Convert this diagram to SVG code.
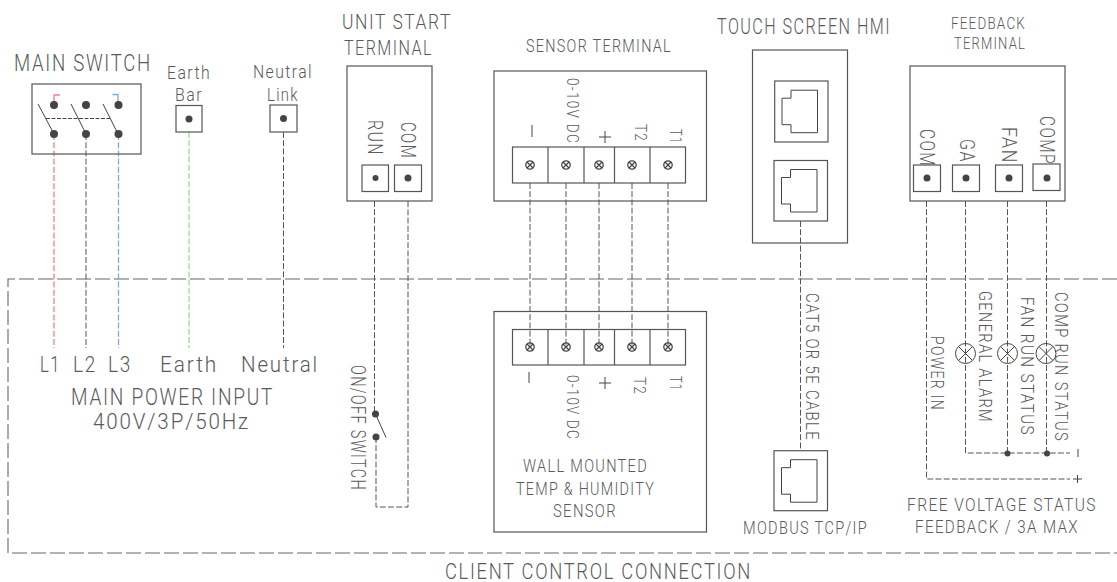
<svg xmlns="http://www.w3.org/2000/svg" width="1117" height="582" viewBox="0 0 1117 582">
<style>
text{font-family:Roboto,"Liberation Sans",sans-serif;font-weight:300;fill:#5a5a5a;letter-spacing:.09em}
.b{fill:none;stroke:#555;stroke-width:1.2}
.t{fill:#fff;stroke:#555;stroke-width:1.2}
.s{fill:none;stroke:#444;stroke-width:1}
.x{fill:none;stroke:#444;stroke-width:1.3}
.d{fill:#444;stroke:none}
.w{fill:none;stroke:#555;stroke-width:1;stroke-dasharray:6 2.2}
.f16{font-size:16px}.f18{font-size:18px}.f20{font-size:20px}.f22{font-size:22px}.f23{font-size:23px}
</style>
<defs>
<g id="screw"><circle r="4.2" class="x"/><path class="x" d="M-3-3L3 3M-3 3L3-3"/></g>
<g id="lamp"><circle r="10" class="s" fill="#fff"/><path class="s" d="M-7-7L7 7M-7 7L7-7"/></g>
<path id="jack" class="s" d="M-9.500-21H17V21.500H-9.500V13.500H-18.500V-13H-9.500Z"/>
</defs>

<g id="connectors">
<path d="M1117 279H8V553H1117" fill="none" stroke="#666" stroke-width="1.1" stroke-dasharray="15 4"/>
<path class="w" style="stroke:#f78080;stroke-width:1.3" d="M54 134V348"/>
<path class="w" d="M86 134V348"/>
<path class="w" style="stroke:#86a6dc;stroke-width:1.3" d="M118.500 134V348"/>
<path class="w" style="stroke:#b4dca8;stroke-width:1.6" d="M189 132V348"/>
<path class="w" d="M283.500 132V348"/>
<path class="w" d="M374.500 201V414"/>
<path class="w" d="M376 437V507H408V201"/>
<path class="w" d="M530 183V347M566 183V347M599 183V347M632 183V347M668 183V347"/>
<path class="w" d="M800.500 221V451"/>
<path class="w" d="M926.500 201V479H1070"/>
<path class="w" d="M965.500 201V453H1070M1007.500 201V453M1046.500 201V453"/>
</g>

<g id="main-switch">
<text lengthAdjust="spacingAndGlyphs" class="f23" x="14" y="71" textLength="138">MAIN SWITCH</text>
<rect class="b" x="32" y="84" width="109" height="70"/>
<path d="M54 105V95H60" fill="none" stroke="#f78080" stroke-width="1.3"/>
<path d="M118 105V94.500H112.500" fill="none" stroke="#86a6dc" stroke-width="1.3"/>
<g class="d"><circle cx="54" cy="105" r="4"/><circle cx="86" cy="105" r="4"/><circle cx="118.500" cy="105" r="4"/><circle cx="54" cy="134" r="4"/><circle cx="86" cy="134" r="4"/><circle cx="118.500" cy="134" r="4"/></g>
<path class="s" d="M38 104L54 134M71 104L86 134M103 104L118 134"/>
<path class="s" stroke-dasharray="4 1.500" d="M46 118.500H110"/>
</g>

<g id="earth-bar">
<text lengthAdjust="spacingAndGlyphs" class="f18" x="167" y="79" textLength="44">Earth</text>
<text lengthAdjust="spacingAndGlyphs" class="f18" x="175" y="101" textLength="28">Bar</text>
<rect class="t" x="176" y="105.500" width="26" height="26.500"/>
<circle class="d" cx="189" cy="119" r="3.500"/>
</g>

<g id="neutral-link">
<text lengthAdjust="spacingAndGlyphs" class="f18" x="253" y="78" textLength="60">Neutral</text>
<text lengthAdjust="spacingAndGlyphs" class="f18" x="267" y="101" textLength="32">Link</text>
<rect class="t" x="270" y="105" width="27" height="27"/>
<circle class="d" cx="283.500" cy="118.500" r="3.500"/>
</g>

<g id="unit-start-terminal">
<text lengthAdjust="spacingAndGlyphs" class="f20" x="342" y="29" textLength="110">UNIT START</text>
<text lengthAdjust="spacingAndGlyphs" class="f20" x="344" y="55" textLength="89">TERMINAL</text>
<rect class="b" x="347" y="66" width="85" height="135"/>
<text lengthAdjust="spacingAndGlyphs" class="f20" transform="translate(367.500 120) rotate(90)" textLength="36">RUN</text>
<text lengthAdjust="spacingAndGlyphs" class="f20" transform="translate(401 122) rotate(90)" textLength="37">COM</text>
<rect class="t" x="362" y="165" width="26.500" height="26.500"/>
<rect class="t" x="394.500" y="165" width="27" height="26.500"/>
<circle class="d" cx="375.500" cy="178" r="3"/>
<circle class="d" cx="408" cy="178" r="3.500"/>
</g>

<g id="sensor-terminal">
<text lengthAdjust="spacingAndGlyphs" class="f18" x="526" y="52" textLength="146">SENSOR TERMINAL</text>
<rect class="b" x="494" y="71" width="212.500" height="130"/>
<rect class="b" x="512.500" y="147" width="173" height="36"/>
<path class="b" d="M548 147V183M584 147V183M614.500 147V183M650 147V183"/>
<use href="#screw" x="530" y="165"/><use href="#screw" x="566" y="165"/><use href="#screw" x="599" y="165"/><use href="#screw" x="632" y="165"/><use href="#screw" x="668" y="165"/>
<path class="s" d="M532 125V137M599 137H611M605 131V143"/>
<text lengthAdjust="spacingAndGlyphs" class="f16" transform="translate(567 78) rotate(90)" textLength="66">0-10V DC</text>
<text lengthAdjust="spacingAndGlyphs" class="f16" transform="translate(634.500 124) rotate(90)" textLength="18">T2</text>
<text lengthAdjust="spacingAndGlyphs" class="f16" transform="translate(669.500 129) rotate(90)" textLength="15">T1</text>
</g>

<g id="touch-screen-hmi">
<text lengthAdjust="spacingAndGlyphs" class="f22" x="717" y="34" textLength="174">TOUCH SCREEN HMI</text>
<rect class="b" x="752.500" y="50" width="95" height="193"/>
<rect class="b" x="774.700" y="81" width="53.300" height="61"/>
<use href="#jack" x="800.500" y="111.200"/>
<rect class="b" x="774" y="160.500" width="53.500" height="60.500"/>
<use href="#jack" x="800" y="190.500"/>
</g>

<g id="feedback-terminal">
<text lengthAdjust="spacingAndGlyphs" class="f16" x="951" y="29" textLength="75">FEEDBACK</text>
<text lengthAdjust="spacingAndGlyphs" class="f16" x="954" y="49" textLength="72">TERMINAL</text>
<rect class="b" x="910" y="66" width="155" height="135"/>
<text lengthAdjust="spacingAndGlyphs" class="f20" transform="translate(920 129) rotate(90)" textLength="38">COM</text>
<text lengthAdjust="spacingAndGlyphs" class="f20" transform="translate(960 139) rotate(90)" textLength="24">GA</text>
<text lengthAdjust="spacingAndGlyphs" class="f20" transform="translate(1002 127) rotate(90)" textLength="37">FAN</text>
<text lengthAdjust="spacingAndGlyphs" class="f20" transform="translate(1040 116) rotate(90)" textLength="49">COMP</text>
<rect class="b" x="913.500" y="165" width="27" height="26.500"/>
<rect class="b" x="952.500" y="165" width="27" height="26.500"/>
<rect class="b" x="995.500" y="165" width="27" height="26.500"/>
<rect class="b" x="1033" y="164" width="27" height="26.500"/>
<circle class="d" cx="927" cy="178" r="3.500"/><circle class="d" cx="966" cy="178" r="3.500"/><circle class="d" cx="1009" cy="178" r="3.500"/><circle class="d" cx="1047" cy="178" r="3.500"/>
</g>

<g id="main-power-input">
<text lengthAdjust="spacingAndGlyphs" class="f22" x="40" y="372" textLength="21">L1</text>
<text lengthAdjust="spacingAndGlyphs" class="f22" x="73" y="372" textLength="24">L2</text>
<text lengthAdjust="spacingAndGlyphs" class="f22" x="108" y="372" textLength="24">L3</text>
<text lengthAdjust="spacingAndGlyphs" class="f22" x="160" y="372" textLength="58">Earth</text>
<text lengthAdjust="spacingAndGlyphs" class="f22" x="241" y="372" textLength="78">Neutral</text>
<text lengthAdjust="spacingAndGlyphs" class="f23" x="71" y="405" textLength="203">MAIN POWER INPUT</text>
<text lengthAdjust="spacingAndGlyphs" class="f22" x="93" y="429" textLength="157">400V/3P/50Hz</text>
</g>

<g id="on-off-switch">
<text lengthAdjust="spacingAndGlyphs" class="f20" transform="translate(351 365) rotate(90)" textLength="126">ON/OFF SWITCH</text>
<circle class="d" cx="375.500" cy="414" r="3.500"/>
<circle class="d" cx="376" cy="437" r="3.500"/>
<path class="s" d="M375.500 414L386 437.500"/>
</g>

<g id="wall-sensor">
<rect class="b" x="494" y="311.500" width="212.500" height="220.500"/>
<rect class="b" x="512.500" y="329.500" width="173" height="35.500"/>
<path class="b" d="M548 329.500V365M584 329.500V365M614.500 329.500V365M650 329.500V365"/>
<use href="#screw" x="530" y="347"/><use href="#screw" x="566" y="347"/><use href="#screw" x="599" y="347"/><use href="#screw" x="632" y="347"/><use href="#screw" x="668" y="347"/>
<path class="s" d="M529 372V383M599 383H611M605 377V389"/>
<text lengthAdjust="spacingAndGlyphs" class="f16" transform="translate(567 375) rotate(90)" textLength="65">0-10V DC</text>
<text lengthAdjust="spacingAndGlyphs" class="f16" transform="translate(634 377) rotate(90)" textLength="18">T2</text>
<text lengthAdjust="spacingAndGlyphs" class="f16" transform="translate(670 376) rotate(90)" textLength="15">T1</text>
<text lengthAdjust="spacingAndGlyphs" class="f18" x="523" y="472" textLength="125">WALL MOUNTED</text>
<text lengthAdjust="spacingAndGlyphs" class="f18" x="516" y="495" textLength="139">TEMP &amp; HUMIDITY</text>
<text lengthAdjust="spacingAndGlyphs" class="f18" x="553" y="517" textLength="64">SENSOR</text>
</g>

<g id="modbus">
<text lengthAdjust="spacingAndGlyphs" class="f18" transform="translate(806 293) rotate(90)" textLength="148">CAT5 OR 5E CABLE</text>
<rect class="t" x="774" y="450.700" width="53.500" height="60"/>
<use href="#jack" x="800" y="480.700"/>
<text lengthAdjust="spacingAndGlyphs" class="f18" x="743" y="534" textLength="125">MODBUS TCP/IP</text>
</g>

<g id="status-feedback">
<text lengthAdjust="spacingAndGlyphs" class="f18" transform="translate(931 336) rotate(90)" textLength="75">POWER IN</text>
<text lengthAdjust="spacingAndGlyphs" class="f18" transform="translate(979 291) rotate(90)" textLength="132">GENERAL ALARM</text>
<text lengthAdjust="spacingAndGlyphs" class="f18" transform="translate(1021 297) rotate(90)" textLength="139">FAN RUN STATUS</text>
<text lengthAdjust="spacingAndGlyphs" class="f18" transform="translate(1055 292) rotate(90)" textLength="150">COMP RUN STATUS</text>
<use href="#lamp" x="965.500" y="353.500"/><use href="#lamp" x="1007.500" y="353.500"/><use href="#lamp" x="1046" y="353.500"/>
<circle class="d" cx="1007.500" cy="453.500" r="3"/><circle class="d" cx="1047" cy="453.500" r="3"/>
<path class="s" d="M1078 449V457M1073 479H1082M1077.500 475V483"/>
<text lengthAdjust="spacingAndGlyphs" class="f18" x="907" y="511" textLength="190">FREE VOLTAGE STATUS</text>
<text lengthAdjust="spacingAndGlyphs" class="f18" x="915" y="533" textLength="164">FEEDBACK / 3A MAX</text>
</g>

<text lengthAdjust="spacingAndGlyphs" id="client-label" class="f22" x="445" y="579" textLength="307">CLIENT CONTROL CONNECTION</text>
</svg>
